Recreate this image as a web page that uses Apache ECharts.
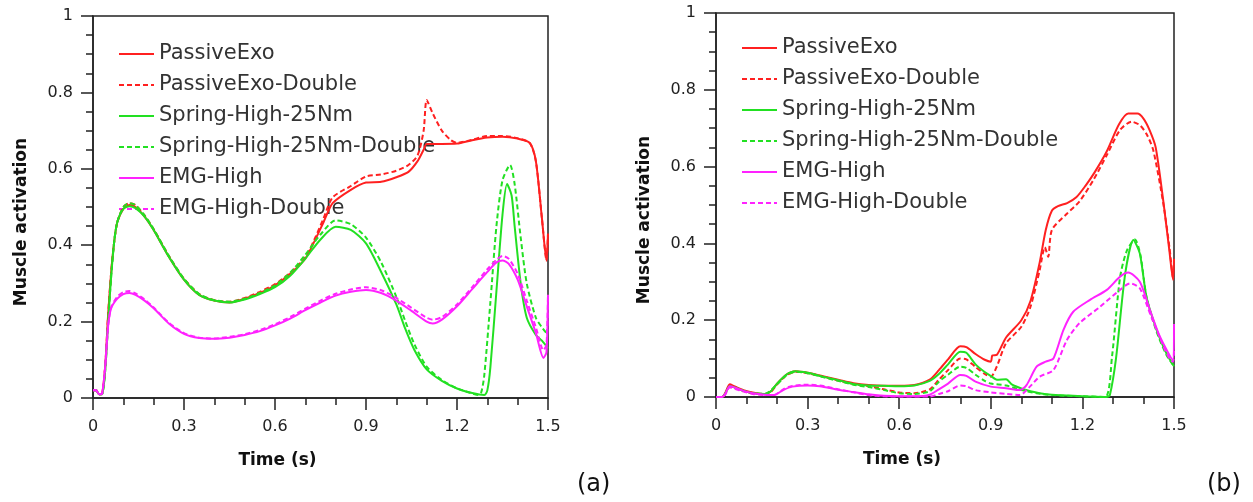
<!DOCTYPE html>
<html>
<head>
<meta charset="utf-8">
<script src="https://cdn.jsdelivr.net/npm/echarts@6/dist/echarts.min.js"></script>
<style>
  html, body { margin: 0; padding: 0; background: #fff; }
  #chart { width: 1253px; height: 502px; }
</style>
</head>
<body>
<div id="chart"></div>
<script>
// 图例名称（左右两图共用）
var names = ['PassiveExo', 'PassiveExo-Double', 'Spring-High-25Nm', 'Spring-High-25Nm-Double', 'EMG-High', 'EMG-High-Double'];
var xTicks = [0, 0.3, 0.6, 0.9, 1.2, 1.5];
var yTicks = [0, 0.2, 0.4, 0.6, 0.8, 1];

// (a) 数据 [time, activation]
var passiveA = [[0,0.02],[0.01,0.02],[0.02,0.01],[0.03,0.012],[0.04,0.08],[0.05,0.22],[0.06,0.33],[0.07,0.41],[0.08,0.46],[0.1,0.495],[0.12,0.505],[0.14,0.5],[0.17,0.475],[0.2,0.44],[0.25,0.37],[0.3,0.31],[0.35,0.27],[0.4,0.255],[0.45,0.25],[0.5,0.26],[0.55,0.275],[0.6,0.295],[0.65,0.325],[0.7,0.365],[0.73,0.41],[0.76,0.46],[0.79,0.51],[0.85,0.545],[0.9,0.564],[0.95,0.566],[1.0,0.578],[1.04,0.592],[1.07,0.62],[1.09,0.65],[1.1,0.665],[1.15,0.665],[1.2,0.666],[1.25,0.675],[1.3,0.682],[1.35,0.684],[1.4,0.679],[1.44,0.668],[1.46,0.62],[1.48,0.47],[1.495,0.36],[1.5,0.43]];
var passiveDblA = [[0,0.02],[0.01,0.02],[0.02,0.01],[0.03,0.012],[0.04,0.08],[0.05,0.22],[0.06,0.33],[0.07,0.41],[0.08,0.46],[0.1,0.5],[0.12,0.51],[0.14,0.505],[0.17,0.478],[0.2,0.442],[0.25,0.372],[0.3,0.312],[0.35,0.272],[0.4,0.256],[0.45,0.252],[0.5,0.262],[0.55,0.278],[0.6,0.298],[0.65,0.328],[0.7,0.368],[0.73,0.415],[0.76,0.47],[0.79,0.525],[0.85,0.555],[0.9,0.58],[0.95,0.585],[1.0,0.595],[1.04,0.61],[1.07,0.635],[1.09,0.7],[1.1,0.78],[1.12,0.745],[1.15,0.7],[1.18,0.675],[1.2,0.668],[1.25,0.676],[1.3,0.686],[1.35,0.686],[1.4,0.68],[1.44,0.667],[1.46,0.62],[1.48,0.47],[1.495,0.36],[1.5,0.43]];
var springA = [[0,0.02],[0.01,0.02],[0.02,0.01],[0.03,0.01],[0.04,0.07],[0.05,0.2],[0.06,0.32],[0.07,0.41],[0.08,0.46],[0.1,0.495],[0.12,0.502],[0.14,0.497],[0.17,0.475],[0.2,0.44],[0.25,0.37],[0.3,0.31],[0.35,0.27],[0.4,0.255],[0.45,0.25],[0.5,0.258],[0.55,0.272],[0.6,0.29],[0.65,0.32],[0.7,0.365],[0.75,0.415],[0.8,0.448],[0.85,0.44],[0.9,0.405],[0.95,0.33],[1.0,0.245],[1.03,0.18],[1.06,0.125],[1.1,0.075],[1.15,0.045],[1.2,0.025],[1.25,0.013],[1.29,0.008],[1.3,0.02],[1.31,0.08],[1.33,0.28],[1.35,0.48],[1.365,0.56],[1.38,0.53],[1.39,0.45],[1.41,0.3],[1.43,0.21],[1.46,0.165],[1.48,0.15],[1.5,0.13]];
var springDblA = [[0,0.02],[0.01,0.02],[0.02,0.01],[0.03,0.01],[0.04,0.07],[0.05,0.2],[0.06,0.32],[0.07,0.41],[0.08,0.46],[0.1,0.5],[0.12,0.51],[0.14,0.505],[0.17,0.478],[0.2,0.442],[0.25,0.372],[0.3,0.312],[0.35,0.272],[0.4,0.256],[0.45,0.252],[0.5,0.26],[0.55,0.275],[0.6,0.295],[0.65,0.328],[0.7,0.375],[0.75,0.428],[0.8,0.465],[0.85,0.455],[0.9,0.42],[0.95,0.355],[1.0,0.265],[1.03,0.2],[1.06,0.14],[1.1,0.082],[1.15,0.047],[1.2,0.025],[1.25,0.012],[1.27,0.008],[1.28,0.015],[1.29,0.06],[1.31,0.25],[1.33,0.45],[1.35,0.57],[1.375,0.61],[1.39,0.56],[1.41,0.42],[1.43,0.3],[1.46,0.21],[1.48,0.185],[1.5,0.165]];
var emgA = [[0,0.02],[0.01,0.02],[0.02,0.01],[0.03,0.012],[0.04,0.08],[0.05,0.19],[0.06,0.235],[0.08,0.26],[0.1,0.272],[0.12,0.275],[0.14,0.27],[0.17,0.255],[0.2,0.235],[0.25,0.195],[0.3,0.168],[0.35,0.157],[0.4,0.155],[0.45,0.158],[0.5,0.165],[0.55,0.175],[0.6,0.19],[0.65,0.208],[0.7,0.23],[0.75,0.25],[0.8,0.268],[0.85,0.278],[0.9,0.283],[0.95,0.275],[1.0,0.255],[1.05,0.228],[1.1,0.2],[1.12,0.195],[1.15,0.205],[1.2,0.24],[1.25,0.285],[1.3,0.33],[1.33,0.355],[1.35,0.36],[1.37,0.352],[1.4,0.31],[1.43,0.24],[1.46,0.17],[1.485,0.105],[1.495,0.12],[1.5,0.27]];
var emgDblA = [[0,0.02],[0.01,0.02],[0.02,0.01],[0.03,0.012],[0.04,0.08],[0.05,0.19],[0.06,0.238],[0.08,0.265],[0.1,0.277],[0.12,0.28],[0.14,0.274],[0.17,0.258],[0.2,0.237],[0.25,0.197],[0.3,0.17],[0.35,0.158],[0.4,0.156],[0.45,0.16],[0.5,0.167],[0.55,0.178],[0.6,0.193],[0.65,0.212],[0.7,0.234],[0.75,0.255],[0.8,0.273],[0.85,0.284],[0.9,0.29],[0.95,0.282],[1.0,0.262],[1.05,0.236],[1.1,0.21],[1.12,0.205],[1.15,0.212],[1.2,0.245],[1.25,0.29],[1.3,0.337],[1.33,0.362],[1.35,0.372],[1.37,0.365],[1.4,0.325],[1.43,0.255],[1.46,0.185],[1.485,0.125],[1.495,0.14],[1.5,0.27]];

// (b) 数据 [time, activation]
var passiveB = [[0,0],[0.02,0],[0.03,0.01],[0.045,0.033],[0.06,0.028],[0.09,0.018],[0.12,0.012],[0.16,0.008],[0.18,0.015],[0.2,0.035],[0.23,0.058],[0.26,0.067],[0.3,0.063],[0.35,0.054],[0.4,0.045],[0.45,0.036],[0.5,0.031],[0.55,0.029],[0.6,0.029],[0.65,0.031],[0.7,0.045],[0.73,0.07],[0.76,0.098],[0.8,0.132],[0.82,0.13],[0.85,0.112],[0.88,0.097],[0.9,0.092],[0.905,0.108],[0.92,0.11],[0.95,0.155],[1.0,0.2],[1.03,0.25],[1.06,0.35],[1.08,0.435],[1.1,0.485],[1.12,0.497],[1.15,0.505],[1.18,0.52],[1.21,0.55],[1.24,0.585],[1.28,0.64],[1.32,0.71],[1.35,0.738],[1.38,0.738],[1.4,0.725],[1.42,0.695],[1.44,0.65],[1.465,0.51],[1.485,0.38],[1.497,0.305],[1.5,0.36]];
var passiveDblB = [[0,0],[0.02,0],[0.03,0.008],[0.045,0.03],[0.06,0.026],[0.09,0.016],[0.12,0.01],[0.16,0.007],[0.18,0.013],[0.2,0.033],[0.23,0.056],[0.26,0.066],[0.3,0.062],[0.35,0.053],[0.4,0.043],[0.45,0.034],[0.5,0.028],[0.55,0.02],[0.6,0.012],[0.65,0.01],[0.7,0.02],[0.73,0.045],[0.76,0.07],[0.8,0.1],[0.82,0.098],[0.85,0.078],[0.88,0.06],[0.9,0.053],[0.92,0.08],[0.95,0.14],[1.0,0.183],[1.03,0.235],[1.06,0.33],[1.077,0.39],[1.088,0.365],[1.1,0.435],[1.15,0.478],[1.19,0.509],[1.236,0.565],[1.28,0.63],[1.323,0.695],[1.361,0.717],[1.388,0.708],[1.41,0.685],[1.432,0.643],[1.465,0.504],[1.485,0.39],[1.496,0.313],[1.5,0.31]];
var springB = [[0,0],[0.02,0],[0.03,0.008],[0.045,0.028],[0.06,0.025],[0.09,0.016],[0.12,0.01],[0.16,0.008],[0.18,0.015],[0.2,0.035],[0.23,0.058],[0.26,0.067],[0.3,0.063],[0.35,0.053],[0.4,0.044],[0.45,0.034],[0.5,0.03],[0.55,0.029],[0.6,0.028],[0.65,0.03],[0.7,0.042],[0.73,0.06],[0.76,0.085],[0.8,0.118],[0.82,0.115],[0.85,0.085],[0.88,0.065],[0.9,0.055],[0.92,0.045],[0.95,0.046],[0.97,0.032],[1.0,0.022],[1.03,0.015],[1.06,0.01],[1.1,0.006],[1.17,0.003],[1.28,0],[1.29,0.005],[1.31,0.1],[1.34,0.32],[1.367,0.409],[1.388,0.374],[1.41,0.26],[1.443,0.175],[1.475,0.114],[1.5,0.08]];
var springDblB = [[0,0],[0.02,0],[0.03,0.008],[0.045,0.028],[0.06,0.025],[0.09,0.016],[0.12,0.01],[0.16,0.008],[0.2,0.033],[0.23,0.056],[0.26,0.066],[0.3,0.062],[0.35,0.052],[0.4,0.042],[0.45,0.032],[0.5,0.026],[0.55,0.018],[0.6,0.01],[0.65,0.008],[0.7,0.015],[0.73,0.04],[0.76,0.058],[0.8,0.079],[0.82,0.076],[0.85,0.058],[0.88,0.042],[0.9,0.035],[0.95,0.03],[1.0,0.018],[1.05,0.01],[1.1,0.005],[1.2,0.002],[1.275,0],[1.297,0.105],[1.323,0.31],[1.345,0.38],[1.372,0.41],[1.39,0.37],[1.41,0.26],[1.443,0.17],[1.475,0.11],[1.5,0.08]];
var emgB = [[0,0],[0.02,0],[0.03,0.008],[0.045,0.028],[0.06,0.025],[0.09,0.016],[0.12,0.01],[0.16,0.006],[0.19,0.005],[0.22,0.018],[0.25,0.027],[0.3,0.03],[0.34,0.028],[0.4,0.019],[0.45,0.013],[0.5,0.007],[0.55,0.003],[0.6,0.002],[0.65,0.002],[0.7,0.006],[0.73,0.02],[0.76,0.035],[0.8,0.057],[0.82,0.055],[0.85,0.04],[0.9,0.027],[0.95,0.023],[0.995,0.018],[1.017,0.031],[1.05,0.079],[1.08,0.092],[1.105,0.1],[1.138,0.175],[1.17,0.222],[1.225,0.253],[1.28,0.279],[1.323,0.313],[1.35,0.324],[1.388,0.3],[1.421,0.227],[1.454,0.157],[1.496,0.096],[1.5,0.19]];
var emgDblB = [[0,0],[0.02,0],[0.03,0.006],[0.045,0.025],[0.06,0.022],[0.09,0.014],[0.12,0.008],[0.16,0.005],[0.19,0.005],[0.22,0.02],[0.25,0.029],[0.3,0.032],[0.34,0.03],[0.4,0.02],[0.45,0.012],[0.5,0.005],[0.55,0.002],[0.6,0.001],[0.7,0.001],[0.73,0.008],[0.76,0.015],[0.8,0.03],[0.82,0.028],[0.85,0.018],[0.9,0.012],[0.95,0.008],[0.995,0.005],[1.028,0.027],[1.06,0.053],[1.105,0.07],[1.149,0.148],[1.19,0.192],[1.258,0.235],[1.323,0.279],[1.356,0.296],[1.388,0.283],[1.43,0.2],[1.496,0.092],[1.5,0.12]];

var colors = ['#ff2020', '#ff2020', '#22e022', '#22e022', '#ff22ff', '#ff22ff'];
var dataA = [passiveA, passiveDblA, springA, springDblA, emgA, emgDblA];
var dataB = [passiveB, passiveDblB, springB, springDblB, emgB, emgDblB];

var tickFont = { fontFamily: 'DejaVu Sans', fontSize: 16, color: '#222' };
var nameFont = { fontFamily: 'DejaVu Sans', fontSize: 17, fontWeight: 'bold', color: '#111' };
var axisLine = { lineStyle: { color: '#222', width: 1.5 } };

function xAxis(idx) {
    return {
        type: 'value', gridIndex: idx, min: 0, max: 1.5, interval: 0.3,
        name: 'Time (s)', nameLocation: 'middle', nameGap: 54,
        nameTextStyle: Object.assign({ padding: [0, 86, 0, 0] }, nameFont),
        axisLine: axisLine,
        axisTick: { show: true, inside: false, length: 12, lineStyle: { color: '#222', width: 1.5 } },
        minorTick: { show: true, splitNumber: 3, length: 7, lineStyle: { color: '#222', width: 1.5 } },
        splitLine: { show: false },
        axisLabel: Object.assign({ margin: 21, formatter: function (v) { return xTicks.indexOf(+v.toFixed(1)) >= 0 ? String(+v.toFixed(1)) : ''; } }, tickFont)
    };
}
function yAxis(idx) {
    return {
        type: 'value', gridIndex: idx, min: 0, max: 1, interval: 0.2,
        name: 'Muscle activation', nameLocation: 'middle', nameGap: 63,
        nameTextStyle: Object.assign({ padding: [0, 30, 0, 0] }, nameFont),
        axisLine: axisLine,
        axisTick: { show: true, inside: false, length: 12, lineStyle: { color: '#222', width: 1.5 } },
        minorTick: { show: true, splitNumber: 4, length: 7, lineStyle: { color: '#222', width: 1.5 } },
        splitLine: { show: false },
        axisLabel: Object.assign({ margin: 20, formatter: function (v) { return yTicks.indexOf(+v.toFixed(1)) >= 0 ? String(+v.toFixed(1)) : ''; } }, tickFont)
    };
}
function legend(left, top) {
    return {
        data: names, orient: 'vertical', left: left, top: top, z: 1,
        itemWidth: 35, itemHeight: 12, itemGap: 7, selectedMode: false,
        // 只保留线段图标，隐藏圆点
        itemStyle: { opacity: 0 },
        textStyle: { fontFamily: 'DejaVu Sans', fontSize: 21, color: '#333', lineHeight: 24 }
    };
}

var series = [];
[dataA, dataB].forEach(function (set, g) {
    set.forEach(function (d, i) {
        series.push({
            name: names[i], type: 'line', xAxisIndex: g, yAxisIndex: g,
            data: d, showSymbol: false, symbol: 'none', smooth: 0.25,
            lineStyle: { color: colors[i], width: 2, type: i % 2 ? [5, 3] : 'solid' },
            itemStyle: { color: colors[i] },
            animation: false
        });
    });
});

var myChart = echarts.init(document.getElementById('chart'));
myChart.setOption({
    animation: false,
    grid: [
        { left: 93, top: 16, width: 455, height: 382, show: true, borderColor: '#222', borderWidth: 1.5 },
        { left: 716, top: 13, width: 458, height: 384, show: true, borderColor: '#222', borderWidth: 1.5 }
    ],
    xAxis: [xAxis(0), xAxis(1)],
    yAxis: [yAxis(0), yAxis(1)],
    legend: [legend(113, 37), legend(736, 31)],
    title: [
        { text: '(a)', left: 572, top: 468, textStyle: { fontFamily: 'DejaVu Sans', fontSize: 24, fontWeight: 'normal', color: '#111' } },
        { text: '(b)', left: 1202, top: 468, textStyle: { fontFamily: 'DejaVu Sans', fontSize: 24, fontWeight: 'normal', color: '#111' } }
    ],
    series: series
});
</script>
</body>
</html>
